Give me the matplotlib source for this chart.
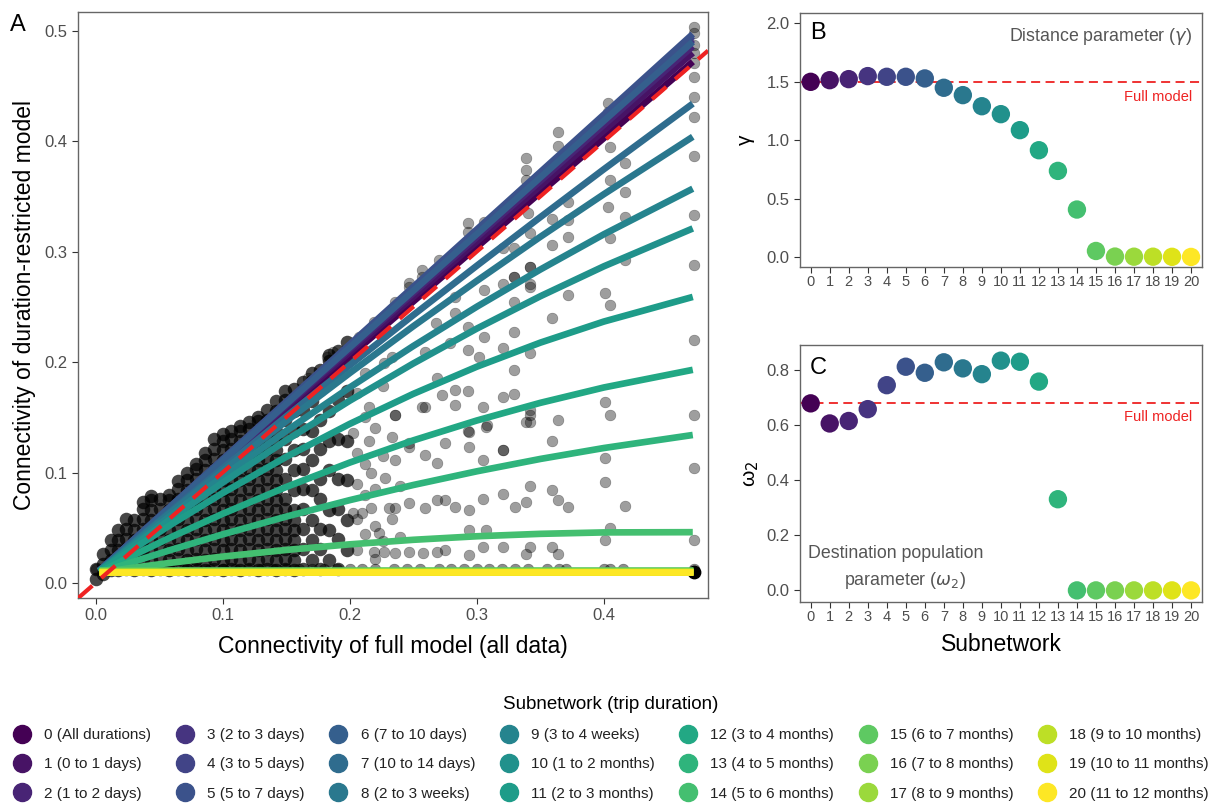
import matplotlib
matplotlib.use("Agg")
import matplotlib.pyplot as plt
from matplotlib.lines import Line2D

plt.rcParams["font.family"] = ["Liberation Sans", "DejaVu Sans"]

# ---- data -------------------------------------------------------------
subnets = list(range(21))
sub_labels = ["0 (All durations)", "1 (0 to 1 days)", "2 (1 to 2 days)",
              "3 (2 to 3 days)", "4 (3 to 5 days)", "5 (5 to 7 days)",
              "6 (7 to 10 days)", "7 (10 to 14 days)", "8 (2 to 3 weeks)",
              "9 (3 to 4 weeks)", "10 (1 to 2 months)", "11 (2 to 3 months)",
              "12 (3 to 4 months)", "13 (4 to 5 months)", "14 (5 to 6 months)",
              "15 (6 to 7 months)", "16 (7 to 8 months)", "17 (8 to 9 months)",
              "18 (9 to 10 months)", "19 (10 to 11 months)", "20 (11 to 12 months)"]

# fitted connectivity curves (panel A), sampled at curve_x
curve_x = [0.003, 0.025, 0.06, 0.1, 0.15, 0.2, 0.25, 0.3, 0.35, 0.4, 0.47]
curve_y = [
    [0.011, 0.0327, 0.0672, 0.1067, 0.156, 0.2054, 0.2548, 0.3041, 0.3535, 0.4028, 0.472],
    [0.011, 0.0331, 0.0682, 0.1084, 0.1586, 0.2088, 0.259, 0.3092, 0.3594, 0.4096, 0.480],
    [0.011, 0.0334, 0.069, 0.1097, 0.1606, 0.2114, 0.2623, 0.3131, 0.364, 0.4148, 0.486],
    [0.0111, 0.0338, 0.0698, 0.111, 0.1625, 0.214, 0.2655, 0.317, 0.3685, 0.420, 0.492],
    [0.0111, 0.0339, 0.0702, 0.1116, 0.1634, 0.2152, 0.267, 0.3188, 0.3706, 0.4224, 0.495],
    [0.0111, 0.034, 0.0704, 0.112, 0.164, 0.216, 0.268, 0.320, 0.372, 0.424, 0.497],
    [0.0111, 0.0337, 0.0696, 0.1106, 0.1619, 0.2132, 0.2645, 0.3158, 0.3671, 0.4184, 0.490],
    [0.0109, 0.0323, 0.0659, 0.1039, 0.1508, 0.197, 0.2425, 0.2872, 0.3312, 0.3746, 0.434],
    [0.0109, 0.0318, 0.0647, 0.1015, 0.1464, 0.190, 0.2324, 0.2735, 0.3134, 0.352, 0.404],
    [0.0108, 0.0308, 0.0619, 0.0963, 0.1376, 0.177, 0.2145, 0.2501, 0.2838, 0.3157, 0.357],
    [0.0106, 0.0296, 0.0588, 0.0909, 0.1291, 0.165, 0.1987, 0.2303, 0.2596, 0.2867, 0.321],
    [0.0104, 0.0274, 0.0533, 0.0814, 0.1141, 0.144, 0.1712, 0.1958, 0.2176, 0.2367, 0.259],
    [0.0098, 0.0224, 0.0418, 0.0626, 0.0869, 0.109, 0.1291, 0.1471, 0.1631, 0.177, 0.193],
    [0.0092, 0.0175, 0.0302, 0.044, 0.0601, 0.075, 0.0887, 0.1011, 0.1123, 0.1222, 0.134],
    [0.0095, 0.0131, 0.0184, 0.0239, 0.0299, 0.035, 0.0391, 0.0423, 0.0445, 0.0458, 0.046],
    [0.0115] * 11,
    [0.011] * 11,
    [0.0105] * 11,
    [0.010] * 11,
    [0.010] * 11,
    [0.010] * 11,
]

# dense cloud of points near the origin (columns of x with their y values)
cloud_x = [0.000, 0.006, 0.012, 0.018, 0.024, 0.030, 0.037, 0.044, 0.051, 0.058,
           0.065, 0.072, 0.079, 0.086, 0.093, 0.100, 0.107, 0.114, 0.121, 0.128,
           0.135, 0.142, 0.149, 0.156, 0.163, 0.170, 0.177, 0.184, 0.191, 0.198]
cloud_y = [
    [0.004, 0.013],
    [0.008, 0.017, 0.026],
    [0.012, 0.021, 0.030, 0.039],
    [0.012, 0.021, 0.030, 0.039, 0.048],
    [0.013, 0.022, 0.031, 0.040, 0.049, 0.058],
    [0.012, 0.021, 0.030, 0.039, 0.048, 0.057],
    [0.013, 0.022, 0.031, 0.040, 0.049, 0.058, 0.067, 0.073],
    [0.012, 0.021, 0.030, 0.039, 0.048, 0.057, 0.066, 0.075, 0.079],
    [0.013, 0.022, 0.031, 0.040, 0.049, 0.058, 0.067, 0.076],
    [0.012, 0.021, 0.030, 0.039, 0.048, 0.057, 0.066, 0.075, 0.080],
    [0.013, 0.022, 0.031, 0.040, 0.049, 0.058, 0.067, 0.076, 0.085, 0.092],
    [0.012, 0.021, 0.030, 0.039, 0.048, 0.057, 0.066, 0.075, 0.084, 0.093, 0.100],
    [0.013, 0.022, 0.031, 0.040, 0.049, 0.058, 0.067, 0.076, 0.085, 0.094, 0.103, 0.108],
    [0.012, 0.021, 0.030, 0.039, 0.048, 0.057, 0.066, 0.075, 0.084, 0.093, 0.102, 0.111,
     0.118],
    [0.013, 0.022, 0.031, 0.040, 0.049, 0.058, 0.067, 0.076, 0.085, 0.094, 0.103, 0.112,
     0.121, 0.130],
    [0.012, 0.021, 0.030, 0.039, 0.048, 0.057, 0.066, 0.075, 0.084, 0.093, 0.102, 0.111,
     0.120, 0.129, 0.135],
    [0.013, 0.022, 0.031, 0.040, 0.049, 0.058, 0.067, 0.076, 0.085, 0.094, 0.103, 0.112,
     0.121, 0.130, 0.138],
    [0.012, 0.021, 0.030, 0.039, 0.048, 0.057, 0.066, 0.075, 0.084, 0.093, 0.102, 0.111,
     0.120, 0.129, 0.138, 0.142],
    [0.013, 0.022, 0.031, 0.040, 0.049, 0.058, 0.067, 0.076, 0.085, 0.094, 0.103, 0.112,
     0.121, 0.130, 0.139, 0.146],
    [0.012, 0.021, 0.030, 0.039, 0.048, 0.057, 0.066, 0.075, 0.084, 0.093, 0.102, 0.111,
     0.120, 0.129, 0.138, 0.147, 0.150],
    [0.013, 0.022, 0.031, 0.040, 0.049, 0.058, 0.067, 0.076, 0.085, 0.094, 0.103, 0.112,
     0.121, 0.130, 0.139, 0.148, 0.157],
    [0.012, 0.021, 0.030, 0.039, 0.048, 0.057, 0.066, 0.075, 0.084, 0.093, 0.102, 0.111,
     0.120, 0.129, 0.138, 0.147, 0.156, 0.165],
    [0.013, 0.022, 0.031, 0.040, 0.049, 0.058, 0.067, 0.076, 0.094, 0.112,
     0.130, 0.148, 0.157, 0.166, 0.174],
    [0.012, 0.021, 0.030, 0.039, 0.048, 0.057, 0.066, 0.084, 0.102, 0.120,
     0.138, 0.156, 0.165, 0.176],
    [0.013, 0.031, 0.049, 0.067, 0.085, 0.103, 0.121, 0.139, 0.157, 0.166, 0.175, 0.182],
    [0.021, 0.039, 0.057, 0.084, 0.111, 0.138, 0.165, 0.174, 0.183, 0.190],
    [0.013, 0.031, 0.049, 0.076, 0.094, 0.121, 0.148, 0.175, 0.184, 0.193],
    [0.021, 0.048, 0.066, 0.102, 0.129, 0.156, 0.183, 0.192, 0.201, 0.206],
    [0.013, 0.040, 0.067, 0.094, 0.130, 0.166, 0.193, 0.202, 0.210],
    [0.030, 0.057, 0.093, 0.129, 0.174, 0.201, 0.210, 0.218],
]

# scattered points further out
spread_x = [0.471, 0.471, 0.471, 0.471, 0.471, 0.471, 0.471, 0.471, 0.471, 0.471, 0.471,
            0.401, 0.405, 0.401, 0.401, 0.417, 0.401, 0.405, 0.359, 0.364, 0.359, 0.364,
            0.372, 0.359, 0.364, 0.342, 0.339, 0.342, 0.339, 0.342, 0.339, 0.321, 0.321,
            0.330, 0.321, 0.307, 0.294, 0.294, 0.305, 0.305, 0.294, 0.283, 0.294, 0.307,
            0.305, 0.294, 0.269, 0.275, 0.275, 0.269, 0.269, 0.275, 0.259, 0.259, 0.258,
            0.247, 0.247, 0.236, 0.236, 0.247, 0.236, 0.228, 0.231, 0.223, 0.227, 0.217,
            0.217, 0.219, 0.210, 0.203, 0.203, 0.215, 0.236, 0.257, 0.283,
            0.471, 0.471, 0.471, 0.471, 0.403, 0.403, 0.405, 0.417, 0.417, 0.403, 0.405,
            0.405, 0.417, 0.417, 0.401, 0.405, 0.364, 0.364, 0.372, 0.372, 0.372, 0.359,
            0.359, 0.339, 0.339, 0.339, 0.340, 0.342, 0.329, 0.342, 0.342, 0.329, 0.372,
            0.359, 0.293, 0.293, 0.306, 0.270, 0.270, 0.257, 0.257, 0.247, 0.247, 0.236,
            0.219, 0.219, 0.207, 0.187, 0.182, 0.167, 0.321, 0.329, 0.321, 0.342, 0.342,
            0.329, 0.306, 0.306, 0.283, 0.293, 0.268, 0.283, 0.329, 0.321, 0.342, 0.329,
            0.302, 0.293, 0.279, 0.259, 0.269, 0.283, 0.293, 0.321, 0.329, 0.305, 0.308,
            0.293, 0.273, 0.236, 0.233, 0.227, 0.215, 0.259, 0.247, 0.342, 0.342, 0.321,
            0.206, 0.206, 0.206, 0.206, 0.206, 0.212, 0.212, 0.212, 0.212, 0.212, 0.220,
            0.220, 0.220, 0.220, 0.226, 0.226, 0.226, 0.233, 0.233, 0.240, 0.240]
spread_y = [0.152, 0.104, 0.039, 0.503, 0.487, 0.471, 0.422, 0.387, 0.333, 0.288, 0.220,
            0.164, 0.152, 0.113, 0.091, 0.070, 0.039, 0.050, 0.129, 0.148, 0.084, 0.075,
            0.069, 0.033, 0.026, 0.152, 0.146, 0.088, 0.073, 0.033, 0.026, 0.120, 0.081,
            0.069, 0.033, 0.141, 0.137, 0.123, 0.111, 0.076, 0.066, 0.069, 0.048, 0.048,
            0.033, 0.025, 0.075, 0.075, 0.127, 0.109, 0.028, 0.030, 0.116, 0.068, 0.027,
            0.072, 0.123, 0.111, 0.068, 0.028, 0.027, 0.095, 0.068, 0.045, 0.028, 0.100,
            0.068, 0.028, 0.063, 0.063, 0.136, 0.129, 0.152, 0.159, 0.161,
            0.498, 0.480, 0.458, 0.440, 0.435, 0.426, 0.395, 0.380, 0.354, 0.340, 0.365,
            0.312, 0.331, 0.292, 0.263, 0.252, 0.408, 0.396, 0.345, 0.329, 0.313, 0.330,
            0.306, 0.385, 0.374, 0.365, 0.335, 0.317, 0.303, 0.286, 0.271, 0.277, 0.261,
            0.240, 0.326, 0.318, 0.327, 0.292, 0.285, 0.283, 0.277, 0.272, 0.268, 0.254,
            0.236, 0.232, 0.223, 0.209, 0.205, 0.186, 0.303, 0.277, 0.271, 0.286, 0.268,
            0.254, 0.265, 0.223, 0.244, 0.232, 0.235, 0.259, 0.227, 0.213, 0.208, 0.193,
            0.205, 0.211, 0.217, 0.209, 0.186, 0.175, 0.174, 0.168, 0.171, 0.159, 0.143,
            0.138, 0.170, 0.152, 0.205, 0.199, 0.159, 0.159, 0.127, 0.157, 0.146, 0.120,
            0.030, 0.058, 0.090, 0.118, 0.172, 0.044, 0.080, 0.108, 0.150, 0.190, 0.022,
            0.052, 0.085, 0.140, 0.038, 0.115, 0.178, 0.058, 0.132, 0.042, 0.088]

# points sitting just above the flat (long-trip) curves
base_x = [0.0, 0.01, 0.02, 0.03, 0.04, 0.05, 0.06, 0.07, 0.08, 0.09, 0.10, 0.11,
          0.12, 0.13, 0.14, 0.15, 0.16, 0.17, 0.18, 0.19, 0.20, 0.21, 0.22, 0.235,
          0.245, 0.255, 0.27, 0.28, 0.29, 0.30, 0.31, 0.32, 0.33, 0.34, 0.355, 0.365,
          0.37, 0.40, 0.405, 0.415, 0.471]
base_y = [0.013] * len(base_x)

gamma = [1.500, 1.514, 1.523, 1.549, 1.543, 1.543, 1.529, 1.449, 1.386, 1.291, 1.223,
         1.086, 0.914, 0.737, 0.406, 0.051, 0.003, 0.002, 0.002, 0.001, 0.0]
omega2 = [0.679, 0.606, 0.615, 0.658, 0.745, 0.812, 0.790, 0.828, 0.806, 0.785, 0.834,
          0.830, 0.758, 0.331, 0.0, 0.0, 0.0, 0.0, 0.0, 0.0, 0.0]
gamma_full = 1.5
omega2_full = 0.679

# ---- figure -----------------------------------------------------------
colors = [plt.cm.viridis(i / 20) for i in subnets]
tick_col = "#4d4d4d"
red = "#ee2222"

fig = plt.figure(figsize=(12.22, 8.09), dpi=100)
axA = fig.add_axes([0.0638, 0.2608, 0.5156, 0.7244])
axB = fig.add_axes([0.6547, 0.670, 0.329, 0.314])
axC = fig.add_axes([0.6547, 0.2559, 0.329, 0.3177])

# panel A
cx, cy = [], []
for x, ys in zip(cloud_x, cloud_y):
    for y in ys:
        cx.append(x)
        cy.append(y)
axA.scatter(cx, cy, s=95, color="black", alpha=0.72, lw=0, zorder=1)
axA.scatter(spread_x, spread_y, s=60, facecolor="black", edgecolor="black",
            alpha=0.38, lw=0.4, zorder=1)
axA.scatter(base_x, base_y, s=60, facecolor="black", edgecolor="black",
            alpha=0.45, lw=0.4, zorder=1)
axA.scatter([0.471], [0.010], s=80, color="black", zorder=1)

for i in subnets:
    axA.plot(curve_x, curve_y[i], color=colors[i], lw=4.8,
             solid_capstyle="butt", solid_joinstyle="round", zorder=2 + i * 0.01)
axA.axline((0, 0), slope=1, color=red, lw=3, ls=(0, (4.5, 2.8)), zorder=5)

axA.set_xlim(-0.0138, 0.482)
axA.set_ylim(-0.0136, 0.517)
axA.set_xticks([0.0, 0.1, 0.2, 0.3, 0.4])
axA.set_yticks([0.0, 0.1, 0.2, 0.3, 0.4, 0.5])
axA.set_xlabel("Connectivity of full model (all data)", fontsize=16.5, labelpad=8)
axA.set_ylabel("Connectivity of duration-restricted model", fontsize=16.5, labelpad=6)
axA.tick_params(labelsize=12, colors="#333333", labelcolor=tick_col, length=4)
fig.text(0.008, 0.962, "A", fontsize=17)

# panel B
axB.axhline(gamma_full, color=red, lw=1.3, ls=(0, (5, 3)), zorder=1)
axB.scatter(subnets, gamma, s=175, c=colors, zorder=3, lw=0)
axB.set_xlim(-0.56, 20.58)
axB.set_ylim(-0.086, 2.09)
axB.set_yticks([0.0, 0.5, 1.0, 1.5, 2.0])
axB.set_xticks(subnets)
axB.set_ylabel("γ", fontsize=15, labelpad=8)
axB.text(0.025, 0.965, "B", transform=axB.transAxes, fontsize=17, va="top")
axB.text(0.975, 0.95, r"Distance parameter ($\gamma$)", transform=axB.transAxes,
         fontsize=12.8, color="#555555", ha="right", va="top")
axB.text(0.975, 0.669, "Full model", transform=axB.transAxes,
         fontsize=10.5, color=red, ha="right", va="center")

# panel C
axC.axhline(omega2_full, color=red, lw=1.3, ls=(0, (5, 3)), zorder=1)
axC.scatter(subnets, omega2, s=175, c=colors, zorder=3, lw=0)
axC.set_xlim(-0.56, 20.58)
axC.set_ylim(-0.042, 0.891)
axC.set_yticks([0.0, 0.2, 0.4, 0.6, 0.8])
axC.set_xticks(subnets)
axC.set_ylabel("ω$_2$", fontsize=15, labelpad=4)
axC.set_xlabel("Subnetwork", fontsize=16.5, labelpad=6)
axC.text(0.025, 0.955, "C", transform=axC.transAxes, fontsize=17, va="top")
axC.text(0.975, 0.72, "Full model", transform=axC.transAxes,
         fontsize=10.5, color=red, ha="right", va="center")
axC.text(0.02, 0.19, "Destination population", transform=axC.transAxes,
         fontsize=12.8, color="#555555", ha="left", va="center")
axC.text(0.11, 0.085, r"parameter ($\omega_2$)", transform=axC.transAxes,
         fontsize=12.8, color="#555555", ha="left", va="center")

for ax in (axB, axC):
    ax.tick_params(axis="x", labelsize=10.5, colors="#333333", labelcolor=tick_col,
                   length=4, pad=2)
    ax.tick_params(axis="y", labelsize=12, colors="#333333", labelcolor=tick_col,
                   length=4)

for ax in (axA, axB, axC):
    for s in ax.spines.values():
        s.set_color("#666666")
        s.set_linewidth(1.0)

# legend
handles = [Line2D([], [], marker="o", ls="", color=colors[i], markersize=13)
           for i in subnets]
leg = fig.legend(handles, sub_labels, ncol=7, loc="upper center",
                 bbox_to_anchor=(0.5, 0.157), frameon=False,
                 title="Subnetwork (trip duration)", fontsize=11,
                 title_fontsize=13.5, handletextpad=0.85, columnspacing=1.6,
                 labelspacing=1.0, handlelength=1.2)
for t in leg.get_texts():
    t.set_color("#222222")

fig.savefig("out.png", dpi=100)
